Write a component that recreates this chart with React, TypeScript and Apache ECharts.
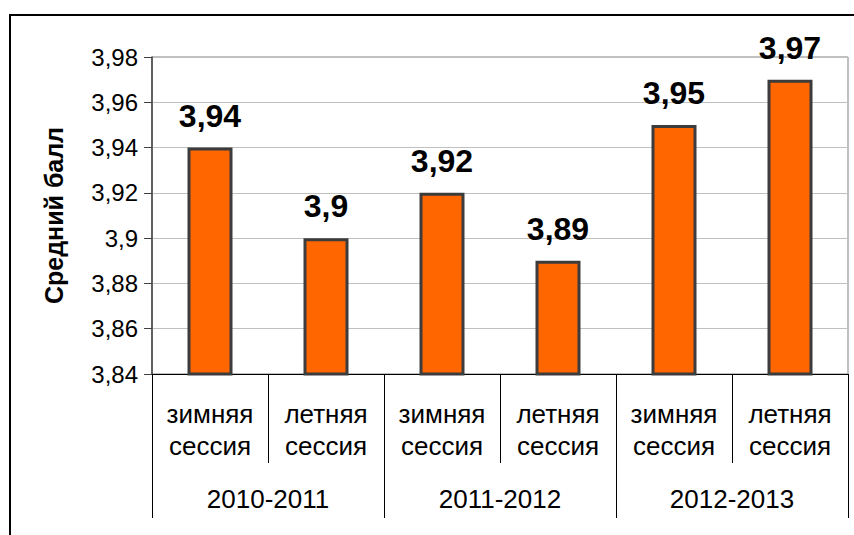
import React, { useEffect, useRef } from "react";
import * as echarts from "echarts";

const sessions = ["зимняя\nсессия", "летняя\nсессия", "зимняя\nсессия", "летняя\nсессия", "зимняя\nсессия", "летняя\nсессия"];
const years = ["2010-2011", "2011-2012", "2012-2013"];
const scores = [3.94, 3.9, 3.92, 3.89, 3.95, 3.97];
const yTitle = "Средний балл";

const fmt = (v: number) => String(+Number(v).toFixed(2)).replace(".", ",");

export default function App() {
  const ref = useRef<HTMLDivElement>(null);
  useEffect(() => {
    const chart = echarts.init(ref.current!, undefined, { renderer: "svg" });
    const font = "Liberation Sans, Arial, sans-serif";
    chart.setOption({
      animation: false,
      backgroundColor: "#ffffff",
      textStyle: { fontFamily: font },
      graphic: [
        {
          type: "rect",
          shape: { x: 10, y: 15, width: 900, height: 600 },
          style: { fill: "none", stroke: "#000000", lineWidth: 2 },
          silent: true,
        },
      ],
      grid: {
        left: 152,
        top: 57,
        right: 6,
        bottom: 161,
        show: true,
        borderColor: "#808080",
        borderWidth: 1,
        backgroundColor: "transparent",
      },
      xAxis: [
        {
          type: "category",
          data: sessions,
          position: "bottom",
          axisLine: { show: true, lineStyle: { color: "#000000", width: 1 } },
          axisTick: { show: true, length: 89, interval: 0, lineStyle: { color: "#000000" } },
          axisLabel: {
            interval: 0,
            margin: 24,
            fontSize: 26,
            lineHeight: 32,
            color: "#000000",
            fontFamily: font,
          },
          splitLine: { show: false },
        },
        {
          type: "category",
          data: years,
          position: "bottom",
          axisLine: { show: false },
          axisTick: { show: true, length: 144, interval: 0, lineStyle: { color: "#000000" } },
          axisLabel: {
            interval: 0,
            margin: 111,
            fontSize: 26,
            lineHeight: 28,
            color: "#000000",
            fontFamily: font,
          },
          splitLine: { show: false },
        },
      ],
      yAxis: {
        type: "value",
        min: 3.84,
        max: 3.98,
        interval: 0.02,
        name: yTitle,
        nameLocation: "middle",
        nameGap: 86,
        nameTextStyle: { fontSize: 25, fontWeight: "bold", color: "#000000", fontFamily: font },
        axisLine: { show: true, lineStyle: { color: "#404040", width: 1.5 } },
        axisTick: { show: true, length: 8, lineStyle: { color: "#404040" } },
        axisLabel: { fontSize: 24, color: "#000000", margin: 14, formatter: fmt, fontFamily: font },
        splitLine: { show: true, lineStyle: { color: "#c0c0c0", width: 1 } },
      },
      series: [
        {
          type: "bar",
          data: scores,
          barWidth: 45,
          xAxisIndex: 0,
          itemStyle: { color: "#ff6600", borderColor: "#3c3c3c", borderWidth: 3 },
          label: {
            show: true,
            position: "top",
            distance: 16,
            fontSize: 32,
            fontWeight: "bold",
            color: "#000000",
            fontFamily: font,
            formatter: (p: any) => fmt(p.value),
          },
        },
      ],
    });
    return () => chart.dispose();
  }, []);
  return (
    <div
      ref={ref}
      style={{ position: "fixed", left: 0, top: 0, width: 854, height: 535 }}
    />
  );
}
